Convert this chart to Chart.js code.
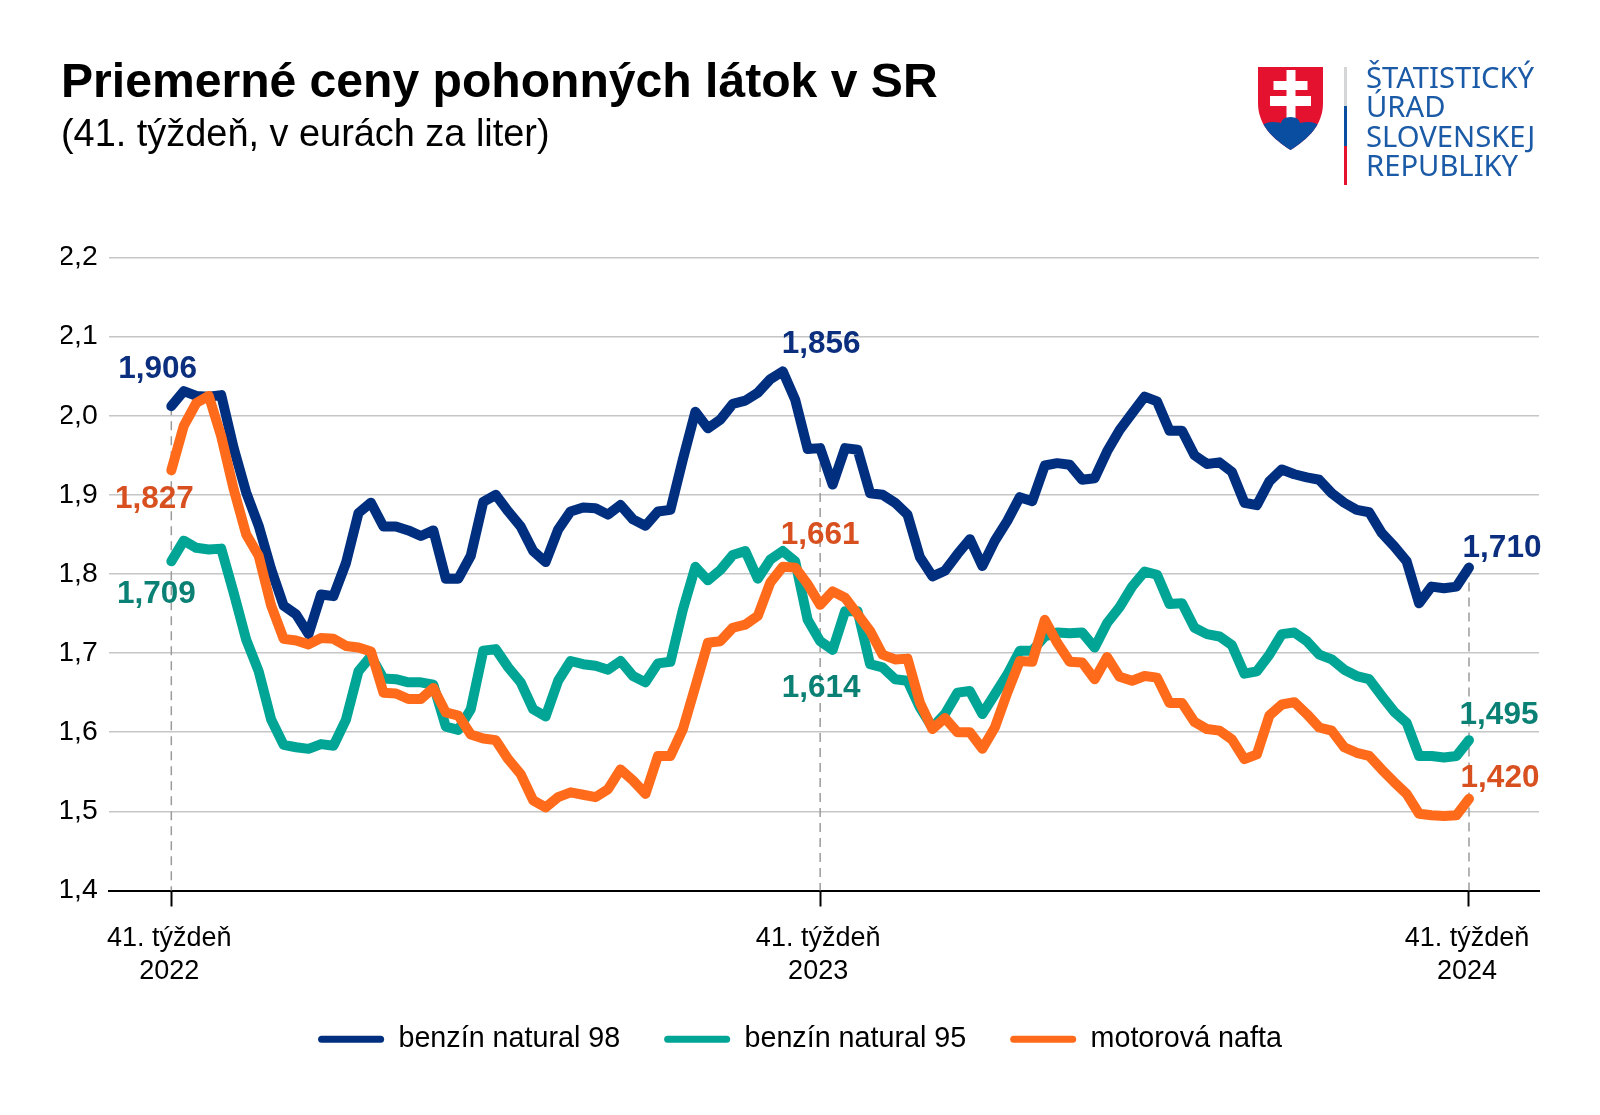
<!DOCTYPE html>
<html lang="sk">
<head>
<meta charset="utf-8">
<title>Priemerné ceny pohonných látok v SR</title>
<script src="https://cdn.jsdelivr.net/npm/chart.js@4"></script>
<style>
  html, body { margin: 0; padding: 0; background: #fff; }
  #wrap { position: relative; width: 1600px; height: 1115px; overflow: hidden; }
  canvas { position: absolute; left: 0; top: 0; }
  #shield { position: absolute; left: 1258px; top: 67px; }
  .bar { position: absolute; left: 1344px; width: 3px; }
  #office {
    position: absolute; left: 1366px; top: 63px;
    font: 29.2px/29.3px "Noto Sans", sans-serif; color: #1a5aa6;
  }
</style>
</head>
<body>
<div id="wrap">
  <canvas id="chart" width="1600" height="1115"></canvas>
  <svg id="shield" width="66" height="84" viewBox="0 0 66 84">
    <defs>
      <clipPath id="shieldClip"><path d="M0 0H65V36C65 58 50 72 32.5 83C15 72 0 58 0 36Z"/></clipPath>
    </defs>
    <path d="M0 0H65V36C65 58 50 72 32.5 83C15 72 0 58 0 36Z" fill="#e4112f"/>
    <path d="M28.5 3H37.5V14H49.5V23H37.5V29H53V39H37.5V52H28.5V39H12V29H28.5V23H15.5V14H28.5Z" fill="#fff"/>
    <path clip-path="url(#shieldClip)" d="M0 62Q6 55 14 55Q20 55 23 56Q24 50 32.5 50Q41 50 42 56Q45 55 51 55Q59 55 65 62V84H0Z" fill="#0a4ea2"/>
  </svg>
  <div class="bar" style="top:67px;height:39px;background:#d4d6d8"></div>
  <div class="bar" style="top:106px;height:40px;background:#0a4ea2"></div>
  <div class="bar" style="top:146px;height:39px;background:#e4112f"></div>
  <div id="office">ŠTATISTICKÝ<br>ÚRAD<br>SLOVENSKEJ<br>REPUBLIKY</div>
</div>

<script>
// Weekly prices, 41st week 2022 to 41st week 2024
const natural98 = [
  2.012, 2.031, 2.025, 2.024, 2.026, 1.959, 1.903, 1.861, 1.806, 1.760,
  1.749, 1.724, 1.774, 1.772, 1.814, 1.877, 1.890, 1.860, 1.860, 1.855,
  1.848, 1.855, 1.794, 1.794, 1.823, 1.891, 1.900, 1.879, 1.860, 1.829,
  1.815, 1.856, 1.879, 1.884, 1.883, 1.875, 1.887, 1.869, 1.861, 1.879,
  1.881, 1.945, 2.005, 1.984, 1.995, 2.015, 2.019, 2.029, 2.046, 2.056,
  2.020, 1.958, 1.959, 1.913, 1.959, 1.957, 1.902, 1.900, 1.890, 1.875,
  1.821, 1.797, 1.804, 1.825, 1.844, 1.810, 1.842, 1.867, 1.897, 1.892,
  1.937, 1.940, 1.938, 1.919, 1.921, 1.955, 1.982, 2.003, 2.024, 2.018,
  1.981, 1.981, 1.950, 1.939, 1.941, 1.929, 1.890, 1.887, 1.917, 1.932,
  1.926, 1.922, 1.919, 1.902, 1.890, 1.881, 1.878, 1.852, 1.835, 1.816,
  1.763, 1.784, 1.782, 1.784, 1.808
];
const natural95 = [
  1.816, 1.842, 1.833, 1.831, 1.832, 1.776, 1.717, 1.677, 1.616, 1.584,
  1.581, 1.579, 1.585, 1.583, 1.616, 1.677, 1.696, 1.668, 1.667, 1.663,
  1.663, 1.660, 1.607, 1.603, 1.629, 1.703, 1.705, 1.682, 1.663, 1.629,
  1.620, 1.665, 1.690, 1.686, 1.684, 1.679, 1.690, 1.671, 1.663, 1.687,
  1.689, 1.755, 1.809, 1.792, 1.805, 1.824, 1.829, 1.794, 1.818, 1.829,
  1.816, 1.742, 1.715, 1.704, 1.753, 1.753, 1.686, 1.682, 1.667, 1.665,
  1.631, 1.606, 1.623, 1.650, 1.652, 1.623, 1.648, 1.673, 1.703, 1.703,
  1.721, 1.726, 1.725, 1.726, 1.707, 1.738, 1.758, 1.784, 1.803, 1.799,
  1.762, 1.763, 1.732, 1.724, 1.721, 1.710, 1.674, 1.677, 1.698, 1.724,
  1.726, 1.715, 1.698, 1.692, 1.679, 1.671, 1.667, 1.646, 1.626, 1.612,
  1.570, 1.570, 1.568, 1.570, 1.590
];
const diesel = [
  1.931, 1.987, 2.016, 2.025, 1.974, 1.907, 1.850, 1.823, 1.760, 1.718,
  1.716, 1.711, 1.719, 1.718, 1.709, 1.707, 1.702, 1.650, 1.649, 1.642,
  1.642, 1.656, 1.625, 1.621, 1.597, 1.592, 1.590, 1.566, 1.547, 1.514,
  1.505, 1.518, 1.524, 1.521, 1.518, 1.528, 1.553, 1.539, 1.522, 1.570,
  1.570, 1.604, 1.658, 1.713, 1.715, 1.732, 1.736, 1.747, 1.789, 1.809,
  1.808, 1.787, 1.761, 1.778, 1.770, 1.749, 1.728, 1.698, 1.692, 1.693,
  1.637, 1.604, 1.618, 1.600, 1.600, 1.579, 1.606, 1.650, 1.690, 1.689,
  1.742, 1.713, 1.689, 1.688, 1.667, 1.695, 1.670, 1.665, 1.671, 1.669,
  1.637, 1.637, 1.613, 1.604, 1.602, 1.591, 1.566, 1.572, 1.621, 1.635,
  1.638, 1.623, 1.606, 1.602, 1.581, 1.574, 1.570, 1.553, 1.537, 1.522,
  1.497, 1.495, 1.494, 1.495, 1.516
];

const seriesNames = ["benzín natural 98", "benzín natural 95", "motorová nafta"];
const yearTicks = [0, 52, 104];
const yearLabels = ["2022", "2023", "2024"];
const weekLabel = "41. týždeň";

const NAVY = "#012f80";
const TEAL = "#00a596";
const ORANGE = "#ff6b1a";

// Printed values, placed relative to a point of their series
const valueLabels = [
  { text: "1,906", series: 0, index: 0, dx: -13.6, dy: -28.5, color: "#0b2f7e" },
  { text: "1,827", series: 2, index: 0, dx: -17, dy: 38, color: "#d8501f" },
  { text: "1,709", series: 1, index: 0, dx: -15, dy: 42, color: "#0b8074" },
  { text: "1,856", series: 0, index: 49, dx: 38.4, dy: -18.6, color: "#0b2f7e" },
  { text: "1,661", series: 2, index: 50, dx: 25, dy: -24, color: "#d8501f" },
  { text: "1,614", series: 1, index: 52, dx: 1, dy: 56, color: "#0b8074" },
  { text: "1,710", series: 0, index: 104, dx: 33, dy: -11, color: "#0b2f7e" },
  { text: "1,495", series: 1, index: 104, dx: 30, dy: -16, color: "#0b8074" },
  { text: "1,420", series: 2, index: 104, dx: 31, dy: -12, color: "#d8501f" }
];

function toPoints(values) {
  return values.map((v, i) => ({ x: i, y: v }));
}

function lineDataset(label, values, color, order) {
  return {
    label: label,
    data: toPoints(values),
    borderColor: color,
    backgroundColor: color,
    borderWidth: 10,
    borderCapStyle: "round",
    borderJoinStyle: "round",
    pointRadius: 0,
    tension: 0,
    order: order
  };
}

// Dashed lines from the top series down to the axis at each year
const dropLines = {
  id: "dropLines",
  beforeDatasetsDraw(chart) {
    const { ctx, scales } = chart;
    ctx.save();
    ctx.strokeStyle = "#9b9b9b";
    ctx.lineWidth = 1.5;
    ctx.setLineDash([9, 6]);
    yearTicks.forEach(t => {
      const x = scales.x.getPixelForValue(t);
      ctx.beginPath();
      ctx.moveTo(x, scales.y.getPixelForValue(natural98[t]));
      ctx.lineTo(x, scales.y.getPixelForValue(1.4));
      ctx.stroke();
    });
    ctx.restore();
  }
};

const printedValues = {
  id: "printedValues",
  afterDatasetsDraw(chart) {
    const { ctx, scales } = chart;
    ctx.save();
    ctx.font = 'bold 31.5px "Liberation Sans", Arial, sans-serif';
    ctx.textAlign = "center";
    ctx.textBaseline = "alphabetic";
    valueLabels.forEach(l => {
      const p = chart.data.datasets[l.series].data[l.index];
      ctx.fillStyle = l.color;
      ctx.fillText(l.text, scales.x.getPixelForValue(p.x) + l.dx, scales.y.getPixelForValue(p.y) + l.dy);
    });
    ctx.restore();
  }
};

Chart.defaults.font.family = '"Liberation Sans", Arial, sans-serif';
Chart.defaults.color = "#000";

new Chart(document.getElementById("chart"), {
  type: "line",
  data: {
    datasets: [
      lineDataset(seriesNames[0], natural98, NAVY, 3),
      lineDataset(seriesNames[1], natural95, TEAL, 2),
      lineDataset(seriesNames[2], diesel, ORANGE, 1)
    ]
  },
  plugins: [dropLines, printedValues],
  options: {
    responsive: false,
    animation: false,
    layout: { padding: { top: 40, left: 61, right: 61, bottom: 51.5 } },
    plugins: {
      tooltip: { enabled: false },
      title: {
        display: true,
        text: "Priemerné ceny pohonných látok v SR",
        align: "start",
        color: "#000",
        font: { size: 48.1, weight: "bold" },
        padding: { top: 15, bottom: 0 }
      },
      subtitle: {
        display: true,
        text: "(41. týždeň, v eurách za liter)",
        align: "start",
        color: "#000",
        font: { size: 37.9, weight: "normal" },
        padding: { top: 0, bottom: 99.2 }
      },
      legend: {
        position: "bottom",
        labels: {
          useBorderRadius: true,
          borderRadius: 3.5,
          boxWidth: 66,
          boxHeight: 7,
          padding: 44,
          color: "#000",
          font: { size: 28.7 },
          generateLabels(chart) {
            return chart.data.datasets.map((d, i) => ({
              text: d.label,
              fillStyle: d.borderColor,
              strokeStyle: d.borderColor,
              lineWidth: 0,
              borderRadius: 3.5,
              datasetIndex: i
            }));
          }
        }
      }
    },
    scales: {
      x: {
        type: "linear",
        min: -5.018,
        max: 109.61,
        afterBuildTicks(scale) {
          scale.ticks = yearTicks.map(v => ({ value: v }));
        },
        afterFit(scale) {
          scale.height = 90.3;
        },
        grid: {
          drawOnChartArea: false,
          drawTicks: true,
          tickLength: 16,
          tickWidth: 2,
          tickColor: "#000"
        },
        border: { color: "#000", width: 2 },
        ticks: {
          autoSkip: false,
          maxRotation: 0,
          padding: 15,
          labelOffset: -2,
          font: { size: 27, lineHeight: 1.24 },
          callback(value) {
            return [weekLabel, yearLabels[yearTicks.indexOf(value)]];
          }
        }
      },
      y: {
        min: 1.4,
        max: 2.2,
        afterFit(scale) {
          scale.width = 47.7;
        },
        grid: { color: "#c6c6c6", lineWidth: 1.5, drawTicks: false },
        border: { display: false },
        ticks: {
          stepSize: 0.1,
          padding: 11,
          labelOffset: 0,
          font: { size: 28.4 },
          callback(value) {
            return value.toFixed(1).replace(".", ",");
          }
        }
      }
    }
  }
});
</script>
</body>
</html>
